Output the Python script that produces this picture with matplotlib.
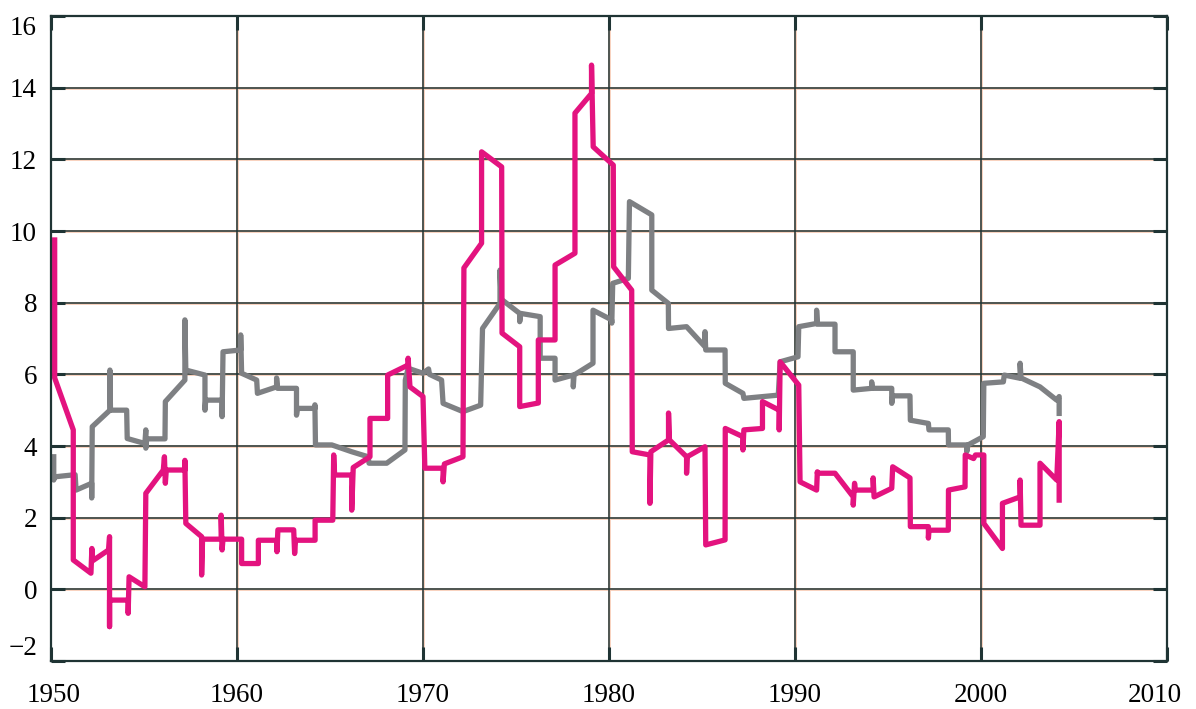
import matplotlib
matplotlib.use("Agg")
import matplotlib.pyplot as plt
import matplotlib.transforms as mtransforms

# traced polylines (year, value)
pink_years = [1950.2, 1950.2, 1951.2, 1951.2, 1952.15, 1952.2, 1952.25, 1953.1, 1953.15, 1953.15,
              1953.15, 1954.15, 1954.15, 1954.2, 1955.05, 1955.1, 1956.04, 1956.1, 1956.15, 1956.2,
              1957.2, 1957.2, 1957.25, 1958.1, 1958.1, 1958.15, 1959.15, 1959.15, 1959.2, 1959.25,
              1960.25, 1960.25, 1961.15, 1961.15, 1962.15, 1962.15, 1962.2, 1963.05, 1963.1, 1963.15,
              1964.2, 1964.2, 1965.15, 1965.2, 1965.25, 1966.17, 1966.17, 1966.25, 1967.15, 1967.15,
              1968.1, 1968.1, 1969.2, 1969.2, 1969.3, 1970.0, 1970.1, 1971.08, 1971.08, 1971.15,
              1972.15, 1972.2, 1973.15, 1973.15, 1974.23, 1974.25, 1975.2, 1975.2, 1976.2, 1976.2,
              1977.1, 1977.1, 1978.17, 1978.17, 1979.06, 1979.06, 1979.15, 1980.23, 1980.25, 1981.22,
              1981.25, 1982.2, 1982.2, 1982.25, 1983.2, 1983.2, 1983.25, 1984.17, 1984.17, 1984.2,
              1985.16, 1985.2, 1986.24, 1986.25, 1987.2, 1987.2, 1987.25, 1988.25, 1988.25, 1989.15,
              1989.15, 1989.2, 1990.2, 1990.27, 1991.16, 1991.2, 1991.2, 1992.15, 1993.13, 1993.13,
              1993.2, 1993.25, 1994.2, 1994.2, 1994.25, 1995.2, 1995.25, 1996.18, 1996.2, 1997.17,
              1997.17, 1997.2, 1998.24, 1998.25, 1999.14, 1999.15, 1999.6, 1999.7, 2000.15, 2000.15,
              2001.15, 2001.15, 2002.1, 2002.1, 2002.15, 2003.17, 2003.17, 2004.07, 2004.2, 2004.2]
pink_values = [9.75, 5.9, 4.45, 0.82, 0.45, 1.14, 0.8, 1.1, 1.47, -1.04,
               -0.3, -0.3, -0.67, 0.35, 0.07, 2.68, 3.33, 3.7, 2.96, 3.33,
               3.33, 3.6, 1.84, 1.47, 0.4, 1.4, 1.4, 2.07, 1.1, 1.4,
               1.4, 0.72, 0.72, 1.37, 1.37, 1.05, 1.66, 1.66, 1.0, 1.37,
               1.37, 1.93, 1.93, 3.75, 3.19, 3.19, 2.21, 3.4, 3.7, 4.77,
               4.77, 5.98, 6.26, 6.45, 5.65, 5.38, 3.38, 3.38, 3.0, 3.5,
               3.7, 8.97, 9.66, 12.21, 11.79, 7.15, 6.77, 5.1, 5.2, 6.96,
               6.96, 9.05, 9.38, 13.29, 13.84, 14.63, 12.35, 11.84, 9.0, 8.35,
               3.84, 3.75, 2.4, 3.84, 4.17, 4.92, 4.17, 3.7, 3.24, 3.7,
               3.98, 1.24, 1.38, 4.49, 4.26, 3.89, 4.45, 4.49, 5.24, 5.0,
               4.45, 6.35, 5.7, 3.0, 2.77, 3.28, 3.24, 3.24, 2.58, 2.35,
               2.96, 2.77, 2.77, 3.11, 2.58, 2.82, 3.42, 3.11, 1.75, 1.75,
               1.43, 1.65, 1.65, 2.77, 2.86, 3.75, 3.65, 3.75, 3.75, 1.84,
               1.14, 2.4, 2.58, 3.05, 1.79, 1.79, 3.52, 3.05, 4.68, 2.49]

gray_years = [1950.15, 1950.15, 1950.2, 1951.3, 1951.35, 1952.19, 1952.19, 1952.22, 1953.17, 1953.17,
              1953.2, 1954.07, 1954.1, 1955.05, 1955.1, 1955.1, 1955.15, 1956.13, 1956.15, 1957.2,
              1957.2, 1957.25, 1958.28, 1958.28, 1958.32, 1959.2, 1959.2, 1959.25, 1960.2, 1960.2,
              1960.25, 1961.06, 1961.1, 1962.13, 1962.13, 1962.18, 1963.2, 1963.2, 1963.25, 1964.19,
              1964.19, 1964.22, 1965.1, 1966.17, 1967.05, 1967.1, 1968.05, 1969.03, 1969.05, 1969.2,
              1970.0, 1970.3, 1970.35, 1971.0, 1971.08, 1972.15, 1973.1, 1973.2, 1974.14, 1974.14,
              1974.2, 1975.2, 1975.2, 1975.25, 1976.3, 1976.3, 1977.1, 1977.1, 1978.08, 1978.08,
              1978.12, 1979.14, 1979.14, 1980.14, 1980.15, 1980.2, 1981.04, 1981.1, 1982.3, 1982.3,
              1983.19, 1983.2, 1984.17, 1985.16, 1985.16, 1985.2, 1986.24, 1986.25, 1987.2, 1987.25,
              1989.1, 1989.2, 1990.16, 1990.2, 1991.16, 1991.16, 1991.2, 1992.15, 1992.15, 1993.13,
              1993.13, 1994.12, 1994.12, 1994.16, 1995.2, 1995.2, 1995.25, 1996.18, 1996.2, 1997.17,
              1997.2, 1998.24, 1998.25, 1999.23, 1999.23, 1999.3, 2000.12, 2000.15, 2001.2, 2001.25,
              2002.1, 2002.1, 2002.15, 2003.17, 2004.07, 2004.2, 2004.2]
gray_values = [3.7, 3.05, 3.14, 3.2, 2.77, 2.96, 2.55, 4.54, 5.0, 6.12,
               5.0, 5.0, 4.21, 4.07, 4.45, 3.94, 4.2, 4.2, 5.24, 5.84,
               7.52, 6.12, 5.98, 5.0, 5.28, 5.28, 4.82, 6.63, 6.68, 7.1,
               6.03, 5.84, 5.47, 5.65, 5.9, 5.61, 5.61, 4.86, 5.05, 5.05,
               5.15, 4.03, 4.03, 3.84, 3.7, 3.52, 3.52, 3.89, 5.84, 6.17,
               6.03, 6.15, 6.0, 5.84, 5.19, 4.96, 5.14, 7.28, 7.98, 8.91,
               8.1, 7.7, 7.47, 7.7, 7.61, 6.45, 6.45, 5.84, 5.98, 5.65,
               5.98, 6.31, 7.79, 7.52, 7.43, 8.54, 8.68, 10.82, 10.45, 8.35,
               7.98, 7.28, 7.33, 6.77, 7.19, 6.68, 6.68, 5.75, 5.47, 5.33,
               5.42, 6.35, 6.49, 7.33, 7.42, 7.79, 7.4, 7.4, 6.63, 6.63,
               5.56, 5.61, 5.79, 5.61, 5.61, 5.19, 5.4, 5.4, 4.72, 4.63,
               4.45, 4.45, 4.03, 4.03, 3.84, 4.03, 4.26, 5.75, 5.79, 5.98,
               5.89, 6.31, 5.9, 5.65, 5.28, 5.38, 4.91]

x_ticks = [1950, 1960, 1970, 1980, 1990, 2000, 2010]
y_ticks = [-2, 0, 2, 4, 6, 8, 10, 12, 14, 16]

PINK = "#e3137f"
GRAY = "#7e8083"
DARK = "#1f3434"
HALO = "#f8cdb8"

plt.rcParams["font.family"] = ["Liberation Serif", "DejaVu Serif"]

fig = plt.figure(figsize=(11.96, 7.09), dpi=100)
ax = fig.add_axes([0.0426, 0.0677, 0.9332, 0.9097])
ax.set_xlim(1950, 2010)
ax.set_ylim(-2, 16)

# grid: dark line over a thin salmon halo
for y in y_ticks[1:-1]:
    ax.axhline(y, color=HALO, lw=2.0, zorder=1)
    ax.axhline(y, color=DARK, lw=1.1, zorder=1.1)
for x in x_ticks[1:-1]:
    ax.axvline(x, color=HALO, lw=2.0, zorder=1)
    ax.axvline(x, color=DARK, lw=1.1, zorder=1.1)

ax.plot(gray_years, gray_values, color=GRAY, lw=3.8, solid_joinstyle="round", zorder=3)
ax.plot(pink_years, pink_values, color=PINK, lw=3.8, solid_joinstyle="round", zorder=4)

for side in ax.spines.values():
    side.set_color(DARK)
    side.set_linewidth(1.6)
    side.set_zorder(5)

ax.set_xticks(x_ticks)
ax.set_yticks(y_ticks)
ax.tick_params(axis="both", direction="in", length=10, width=2.2, color=DARK,
               labelsize=19.5, top=True, right=True)
ax.tick_params(axis="y", pad=10)
ax.tick_params(axis="x", pad=16)

ylabels = ax.get_yticklabels()
ylabels[0].set_verticalalignment("bottom")
ylabels[-1].set_verticalalignment("top")
xlabels = ax.get_xticklabels()
xlabels[-1].set_transform(xlabels[-1].get_transform() +
                          mtransforms.ScaledTranslation(-0.12, 0, fig.dpi_scale_trans))
xlabels[0].set_transform(xlabels[0].get_transform() +
                         mtransforms.ScaledTranslation(0.03, 0, fig.dpi_scale_trans))

fig.savefig("out.png", dpi=100)
